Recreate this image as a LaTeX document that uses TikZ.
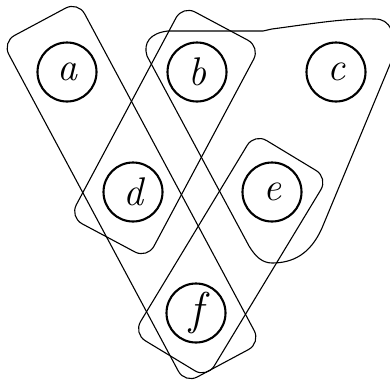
\documentclass[tikz,border=0pt]{standalone}
\usepackage{fontspec}
\usetikzlibrary{calc}
\tikzset{
  vtx/.style={circle,draw,line width=2.1pt,minimum size=59pt,inner sep=0pt,font=\itshape\fontsize{40}{40}\selectfont},
  hedge/.style={draw,line width=1.1pt,rounded corners=14pt}
}
\newcommand\hrect[6]{%
  \coordinate (#6s) at ($(#1)!-#3!(#2)$);
  \coordinate (#6e) at ($(#2)!-#4!(#1)$);
  \draw[hedge] ($(#6s)!#5!90:(#6e)$) -- ($(#6s)!#5!-90:(#6e)$) -- ($(#6e)!#5!90:(#6s)$) -- ($(#6e)!#5!-90:(#6s)$) -- cycle;}
\begin{document}
\begin{tikzpicture}[x=1pt,y=-1pt]
\useasboundingbox (0,0) rectangle (390,391);
\node[vtx] (a) at (67,72) {a};
\node[vtx] (b) at (197,72) {b};
\node[vtx] (c) at (336,72) {c};
\node[vtx] (d) at (133,192) {d};
\node[vtx] (e) at (272,192) {e};
\node[vtx,font=\itshape\fontsize{46}{46}\selectfont] (f) at (196,313) {f};
\coordinate (e1) at (268,194);
\hrect{a}{f}{57pt}{57pt}{43pt}{h1}
\hrect{b}{d}{52pt}{52pt}{44pt}{h2}
\hrect{e1}{f}{45pt}{50pt}{43pt}{h3}
\draw[line width=1.1pt] (147,56) .. controls (143,43) and (150,33) .. (168,31) -- (263,31) -- (272,29)
  .. controls (310,24) and (345,18) .. (375,19) .. controls (390,19) and (397,32) .. (391,62)
  -- (322,228) .. controls (310,255) and (292,263) .. (272,263) .. controls (262,263) and (255,256) .. (249,246) -- cycle;
\end{tikzpicture}
\end{document}
